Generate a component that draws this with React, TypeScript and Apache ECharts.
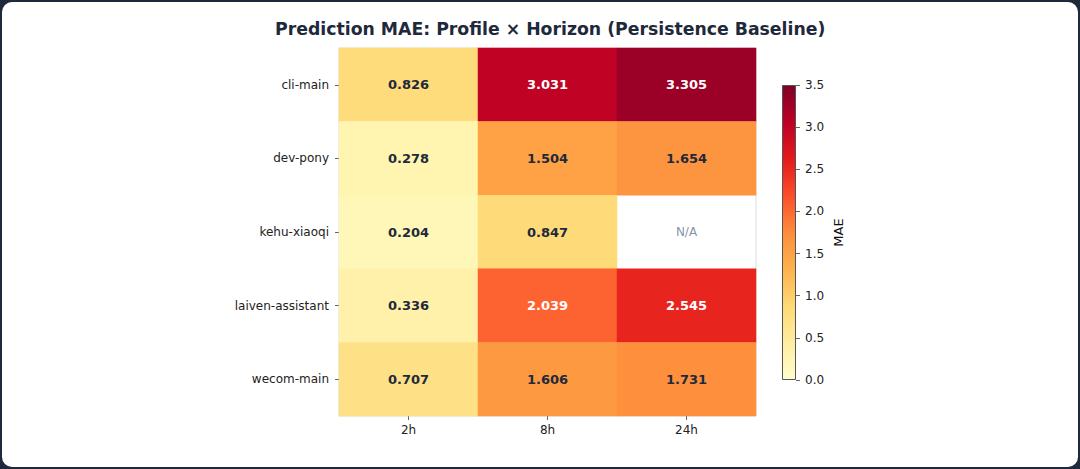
import React, { useEffect, useRef } from "react";
import * as echarts from "echarts";

// Profiles (rows, top to bottom) and forecast horizons (columns)
const profiles = ["cli-main", "dev-pony", "kehu-xiaoqi", "laiven-assistant", "wecom-main"];
const horizons = ["2h", "8h", "24h"];

// MAE per profile, one entry per horizon; null = no data
const maeCliMain = [0.826, 3.031, 3.305];
const maeDevPony = [0.278, 1.504, 1.654];
const maeKehuXiaoqi = [0.204, 0.847, null];
const maeLaivenAssistant = [0.336, 2.039, 2.545];
const maeWecomMain = [0.707, 1.606, 1.731];

const maeRows: (number | null)[][] = [
  maeCliMain,
  maeDevPony,
  maeKehuXiaoqi,
  maeLaivenAssistant,
  maeWecomMain,
];

// Colour scale range and colour bar ticks
const scaleMin = 0;
const scaleMax = 3.5;
const scaleStep = 0.5;

const ylOrRd = [
  "#ffffcc",
  "#ffeda0",
  "#fed976",
  "#feb24c",
  "#fd8d3c",
  "#fc4e2a",
  "#e31a1c",
  "#bd0026",
  "#800026",
];

const FONT = "DejaVu Sans";
const INK = "#1e293b";
const TICK = "#666666";

export default function App() {
  const ref = useRef<HTMLDivElement>(null);

  useEffect(() => {
    if (!ref.current) return;
    const chart = echarts.init(ref.current, null, { renderer: "svg" });

    const cells: any[] = [];
    const missing: any[] = [];
    maeRows.forEach((row, r) => {
      row.forEach((v, c) => {
        if (v === null) {
          missing.push([c, r]);
        } else {
          cells.push({
            value: [c, r, v],
            label: { color: v > 2 ? "#ffffff" : INK },
          });
        }
      });
    });

    const gradient = new echarts.graphic.LinearGradient(
      0,
      1,
      0,
      0,
      ylOrRd.map((color, i) => ({ offset: i / (ylOrRd.length - 1), color }))
    );

    chart.setOption({
      animation: false,
      title: {
        text: "Prediction MAE: Profile × Horizon (Persistence Baseline)",
        left: 270,
        top: 15,
        textStyle: { fontFamily: FONT, fontSize: 17.3, fontWeight: "bold", color: INK },
      },
      grid: [
        {
          left: 339,
          top: 48,
          width: 417,
          height: 368,
          show: true,
          borderColor: "#d6dce4",
          borderWidth: 1,
        },
        { left: 782, top: 85, width: 14, height: 295 },
      ],
      xAxis: [
        {
          type: "category",
          gridIndex: 0,
          data: horizons,
          axisLine: { show: false },
          axisTick: { show: true, alignWithLabel: true, length: 4, lineStyle: { color: TICK } },
          axisLabel: { fontFamily: FONT, fontSize: 12, color: "#222", margin: 8 },
          splitLine: { show: false },
        },
        {
          type: "category",
          gridIndex: 1,
          data: ["MAE"],
          show: false,
        },
      ],
      yAxis: [
        {
          type: "category",
          gridIndex: 0,
          data: profiles,
          inverse: true,
          axisLine: { show: false },
          axisTick: { show: true, alignWithLabel: true, length: 4, lineStyle: { color: TICK } },
          axisLabel: { fontFamily: FONT, fontSize: 12, color: "#222", margin: 10 },
          splitLine: { show: false },
        },
        {
          type: "value",
          gridIndex: 1,
          position: "right",
          min: scaleMin,
          max: scaleMax,
          interval: scaleStep,
          name: "MAE",
          nameLocation: "middle",
          nameRotate: 90,
          nameGap: 36,
          nameTextStyle: { fontFamily: FONT, fontSize: 13, color: "#111" },
          axisLine: { show: false },
          axisTick: { show: true, length: 4, lineStyle: { color: TICK } },
          axisLabel: {
            fontFamily: FONT,
            fontSize: 12,
            color: "#222",
            margin: 9,
            formatter: (v: number) => v.toFixed(1),
          },
          splitLine: { show: false },
        },
      ],
      visualMap: {
        type: "continuous",
        show: false,
        seriesIndex: 0,
        min: scaleMin,
        max: scaleMax,
        inRange: { color: ylOrRd },
      },
      series: [
        {
          type: "heatmap",
          xAxisIndex: 0,
          yAxisIndex: 0,
          data: cells,
          label: {
            show: true,
            fontFamily: FONT,
            fontSize: 13,
            fontWeight: "bold",
            formatter: (p: any) => Number(p.value[2]).toFixed(3),
          },
          itemStyle: { borderWidth: 0 },
        },
        {
          type: "scatter",
          xAxisIndex: 0,
          yAxisIndex: 0,
          data: missing,
          symbolSize: 0,
          silent: true,
          label: {
            show: true,
            position: "inside",
            formatter: "N/A",
            fontFamily: FONT,
            fontSize: 12,
            color: "#64748b",
          },
        },
        {
          type: "bar",
          xAxisIndex: 1,
          yAxisIndex: 1,
          data: [scaleMax],
          barWidth: "100%",
          silent: true,
          itemStyle: { color: gradient, borderColor: "#555", borderWidth: 1 },
        },
      ],
    });

    return () => chart.dispose();
  }, []);

  return (
    <div
      style={{
        position: "fixed",
        left: 0,
        top: 0,
        width: 1080,
        height: 469,
        background: "#1e293b",
      }}
    >
      <div
        style={{
          position: "absolute",
          left: 2,
          top: 2,
          right: 2,
          bottom: 2,
          background: "#ffffff",
          borderRadius: 10,
        }}
      />
      <div ref={ref} style={{ position: "absolute", left: 0, top: 0, width: 1080, height: 469 }} />
    </div>
  );
}
